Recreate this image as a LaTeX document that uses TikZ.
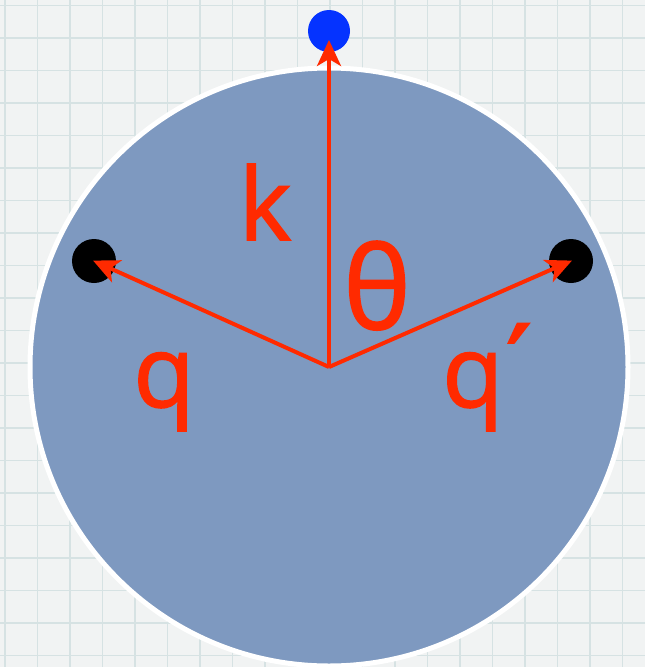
\documentclass[tikz,border=0pt]{standalone}
\usepackage{fontspec}
\setmainfont{Open Sans}
\newfontfamily\lblfont[FakeBold=1.6]{Open Sans}
\newfontfamily\dvfont[FakeBold=3]{DejaVu Sans}
\usetikzlibrary{arrows.meta}
\definecolor{bgpaper}{RGB}{241,243,243}
\definecolor{gridcol}{RGB}{214,226,227}
\definecolor{disc}{RGB}{126,153,192}
\definecolor{arrowred}{RGB}{255,42,0}
\definecolor{dotblue}{RGB}{5,51,255}
\tikzset{
  vec/.style={draw=arrowred, line width=4pt, -{Stealth[length=26pt,width=24pt,inset=7pt]}},
  lbl/.style={text=arrowred, inner sep=0pt, anchor=base, font=\lblfont\fontsize{100}{110}\selectfont},
  blackdot/.style={circle, fill=black, minimum size=44pt, inner sep=0pt},
  bluedot/.style={circle, fill=dotblue, minimum size=42pt, inner sep=0pt}
}
\begin{document}
\begin{tikzpicture}[x=1pt,y=-1pt]
\useasboundingbox (0,0) rectangle (645,667);
\fill[bgpaper] (0,0) rectangle (645,667);
\begin{scope}
\clip (0,0) rectangle (645,667);
\foreach \i in {0,...,20} {
  \draw[gridcol, line width=1.3pt] ({5+32.5*\i},0) -- ({5+32.5*\i},667);
  \draw[gridcol, line width=1.3pt] (0,{5.5+32.5*\i}) -- (645,{5.5+32.5*\i});
}
\fill[disc, draw=white, line width=5pt] (329,367) circle (299);
\end{scope}
\coordinate (o) at (329,367);
\node[bluedot] (kdot) at (329,31) {};
\node[blackdot] (qdot) at (94,261) {};
\node[blackdot] (qpdot) at (571,261) {};
\draw[vec, shorten >=9pt] (o) -- (kdot.center);
\draw[vec, shorten >=-1pt] (o) -- (qdot.center);
\draw[vec, shorten >=-1pt] (o) -- (qpdot.center);
\node[lbl] (klbl) at (265,240) {k};
\node[lbl, font=\lblfont\fontsize{114}{120}\selectfont] (thlbl) at (377,329) {θ};
\node[lbl] (qlbl) at (164,407) {q};
\node[lbl, anchor=base west] (qplbl) at (442,407) {q\kern 4pt\raisebox{10pt}{\dvfont\fontsize{100}{100}\selectfont ′}};
\end{tikzpicture}
\end{document}
